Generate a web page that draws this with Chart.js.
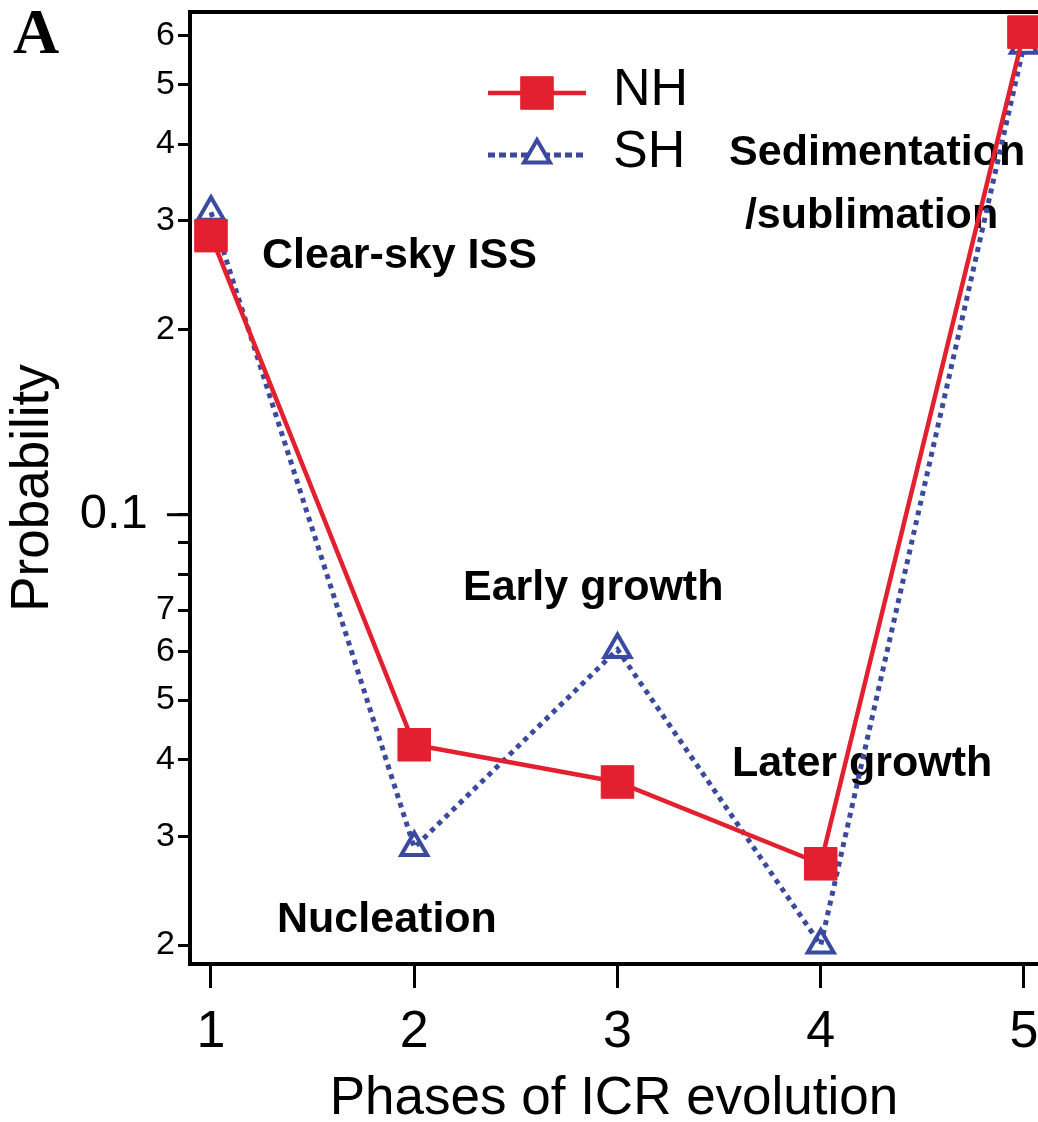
<!DOCTYPE html>
<html>
<head>
<meta charset="utf-8">
<script src="https://cdn.jsdelivr.net/npm/chart.js@4.4.0/dist/chart.umd.min.js"></script>
<style>
  html, body { margin: 0; padding: 0; background: #fff; overflow: hidden; }
  canvas { display: block; }
</style>
</head>
<body>
<canvas id="chart" width="1038" height="1122"></canvas>
<script>
// Phases of ice-cloud-region evolution and the probability of each phase
const phases = [1, 2, 3, 4, 5];
const phaseLabels = ['1', '2', '3', '4', '5'];
const nhValues = [0.284, 0.0423, 0.0368, 0.0271, 0.608];
const shValues = [0.310, 0.0288, 0.0604, 0.0200, 0.579];

// Log-axis ticks: every minor step is marked, only some are labelled
const yTickValues = [0.02, 0.03, 0.04, 0.05, 0.06, 0.07, 0.08, 0.09, 0.1, 0.2, 0.3, 0.4, 0.5, 0.6];
const yTickLabels = ['2', '3', '4', '5', '6', '7', '', '', '0.1  ', '2', '3', '4', '5', '6'];

// Phase names written inside the plot, anchored in data coordinates
const noteTexts = ['Clear-sky ISS', 'Early growth', 'Later growth', 'Nucleation', 'Sedimentation', '/sublimation'];
const noteX = [1.251, 2.240, 3.563, 1.325, 3.549, 3.627];
const noteY = [0.252, 0.0728, 0.0376, 0.0210, 0.370, 0.292];

const RED = '#e3202f';
const BLUE = '#3b4a9e';
const FONT = '"Liberation Sans", Arial, Helvetica, sans-serif';

Chart.defaults.font.family = FONT;
Chart.defaults.color = '#000';

function markerPath(ctx, style, r, cx, cy) {
  ctx.beginPath();
  if (style === 'rect') {
    const s = Math.SQRT1_2 * r;
    ctx.rect(cx - s, cy - s, 2 * s, 2 * s);
  } else {
    for (let k = 0; k < 3; k++) {
      const ang = k * 2 * Math.PI / 3;
      const px = cx + Math.sin(ang) * r;
      const py = cy - Math.cos(ang) * r;
      if (k === 0) ctx.moveTo(px, py); else ctx.lineTo(px, py);
    }
    ctx.closePath();
  }
}

const decor = {
  id: 'decor',
  beforeDatasetsDraw(chart) {
    const { ctx, scales: { x, y } } = chart;
    ctx.save();
    ctx.font = 'bold 43px ' + FONT;
    ctx.fillStyle = '#000';
    ctx.textAlign = 'left';
    ctx.textBaseline = 'alphabetic';
    noteTexts.forEach((t, i) => {
      ctx.fillText(t, x.getPixelForValue(noteX[i]), y.getPixelForValue(noteY[i]));
    });
    ctx.restore();
  },
  afterDraw(chart) {
    const { ctx, chartArea: a, scales: { y } } = chart;
    ctx.save();
    // frame line along the top of the plot
    ctx.strokeStyle = '#000';
    ctx.lineWidth = 4;
    ctx.beginPath();
    ctx.moveTo(a.left - 2, a.top);
    ctx.lineTo(a.right, a.top);
    ctx.stroke();
    // longer tick for the decade value
    const py = y.getPixelForValue(0.1);
    ctx.lineWidth = 3;
    ctx.beginPath();
    ctx.moveTo(a.left - 23, py);
    ctx.lineTo(a.left, py);
    ctx.stroke();

    // panel letter
    ctx.fillStyle = '#000';
    ctx.font = 'bold 64px "Liberation Serif", "Times New Roman", serif';
    ctx.textAlign = 'left';
    ctx.textBaseline = 'alphabetic';
    ctx.fillText('A', 13, 53);

    // legend
    chart.data.datasets.forEach((ds, i) => {
      const ly = a.top + 81 + i * 62;
      const x0 = a.left + 298, x1 = a.left + 396;
      const cx = (x0 + x1) / 2;
      ctx.save();
      ctx.strokeStyle = ds.borderColor;
      ctx.lineWidth = ds.borderWidth;
      ctx.setLineDash(ds.borderDash ? [7, 4] : []);
      ctx.beginPath();
      ctx.moveTo(x0, ly);
      ctx.lineTo(x1, ly);
      ctx.stroke();
      ctx.setLineDash([]);
      markerPath(ctx, ds.pointStyle, ds.pointRadius, cx, ly);
      if (ds.pointBackgroundColor && ds.pointBackgroundColor !== 'rgba(0,0,0,0)') {
        ctx.fillStyle = ds.pointBackgroundColor;
        ctx.fill();
      } else {
        ctx.fillStyle = '#fff';
        ctx.fill();
      }
      ctx.lineWidth = ds.pointBorderWidth;
      ctx.strokeStyle = ds.pointBorderColor;
      ctx.stroke();
      ctx.fillStyle = '#000';
      ctx.font = '52px ' + FONT;
      ctx.textAlign = 'left';
      ctx.textBaseline = 'middle';
      ctx.fillText(ds.label, a.left + 423, ly - 2);
      ctx.restore();
    });
    ctx.restore();
  }
};

new Chart(document.getElementById('chart'), {
  type: 'line',
  data: {
    datasets: [
      {
        label: 'NH',
        data: phases.map((p, i) => ({ x: p, y: nhValues[i] })),
        borderColor: RED,
        borderWidth: 4.5,
        pointStyle: 'rect',
        pointRadius: 23,
        pointBackgroundColor: RED,
        pointBorderColor: RED,
        pointBorderWidth: 1,
        tension: 0,
        clip: false
      },
      {
        label: 'SH',
        data: phases.map((p, i) => ({ x: p, y: shValues[i] })),
        borderColor: BLUE,
        borderWidth: 5,
        borderDash: [5, 5],
        pointStyle: 'triangle',
        pointRadius: 15,
        pointBackgroundColor: 'rgba(0,0,0,0)',
        pointBorderColor: BLUE,
        pointBorderWidth: 4,
        tension: 0,
        clip: false
      }
    ]
  },
  options: {
    responsive: false,
    animation: false,
    devicePixelRatio: 1,
    layout: { padding: { top: 12, right: 0, bottom: 0, left: 0 }, autoPadding: false },
    plugins: { legend: { display: false }, title: { display: false }, tooltip: { enabled: false } },
    scales: {
      x: {
        type: 'linear',
        min: 0.8967,
        max: 5.069,
        afterBuildTicks: s => { s.ticks = phases.map(v => ({ value: v })); },
        afterFit: s => { s.height = 158; s.paddingLeft = 0; s.paddingRight = 0; },
        grid: { drawOnChartArea: false, drawTicks: true, tickLength: 24, tickWidth: 3, tickColor: '#000' },
        border: { display: true, width: 4, color: '#000' },
        ticks: {
          autoSkip: false,
          maxRotation: 0,
          padding: 13,
          font: { size: 52 },
          callback: (v, i) => phaseLabels[i]
        },
        title: {
          display: true,
          text: 'Phases of ICR evolution',
          font: { size: 53, lineHeight: 0.85 },
          padding: 0
        }
      },
      y: {
        type: 'logarithmic',
        min: 0.01863,
        max: 0.6555,
        afterBuildTicks: s => { s.ticks = yTickValues.map(v => ({ value: v })); },
        afterFit: s => { s.width = 190; s.paddingTop = 0; s.paddingBottom = 0; },
        grid: { drawOnChartArea: false, drawTicks: true, tickLength: 12, tickWidth: 3, tickColor: '#000' },
        border: { display: true, width: 4, color: '#000' },
        ticks: {
          autoSkip: false,
          padding: 3,
          font: c => ({ size: (c.tick && c.tick.value === 0.1) ? 49 : 34 }),
          callback: (v, i) => yTickLabels[i]
        },
        title: {
          display: true,
          text: 'Probability',
          font: { size: 53, lineHeight: 0.85 },
          padding: { top: 11, bottom: 0 }
        }
      }
    }
  },
  plugins: [decor]
});
</script>
</body>
</html>
